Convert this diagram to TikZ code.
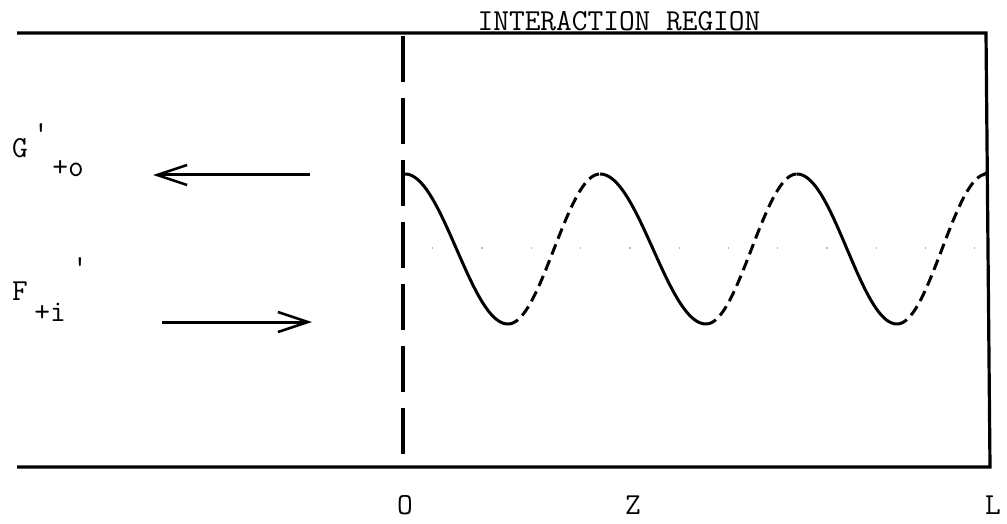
\documentclass[tikz,border=0pt]{standalone}
\usepackage{fontspec}
\usetikzlibrary{arrows.meta}
\tikzset{
  tw/.style={font=\fontsize{30.5}{33}\selectfont\ttfamily, inner sep=0pt, anchor=base},
  frame/.style={line width=3.2pt},
  wall/.style={line width=3.2pt, dash pattern=on 46pt off 16pt},
  solidwave/.style={line width=3pt},
  dashwave/.style={line width=3pt, dash pattern=on 11pt off 6pt},
  flow/.style={line width=3pt, -{Straight Barb[length=30pt,width=20pt,line width=2.6pt]}},
  axisdots/.style={gray!55, line width=1.3pt, dash pattern=on 1.3pt off 48pt},
}
\begin{document}
\begin{tikzpicture}[x=1pt,y=-1pt]
\useasboundingbox (0,0) rectangle (1007,524);
% frame
\coordinate (TL) at (17,33);
\coordinate (TR) at (986,33);
\coordinate (BR) at (990,467);
\coordinate (BL) at (17,467);
\coordinate (W0) at (403,36);
\coordinate (W1) at (403,470);
\draw[frame] (TL) -- (TR) -- (BR) -- (BL);
\draw[wall] (W0) -- (W1);
% title and axis labels
\node[tw] (title) at (619,31) {INTERACTION REGION};
\node[tw] (o) at (405,514) {O};
\node[tw] (z) at (633,514) {Z};
\node[tw] (l) at (993,514) {L};
% left labels
\node[tw] (G) at (20,158) {G};
\node[tw] (Gp) at (41,143) {'};
\node[tw] (Gs) at (68,177) {+o};
\node[tw] (F) at (20,300) {F};
\node[tw] (Fp) at (80,276) {'};
\node[tw] (Fs) at (50,321) {+i};
% arrows
\coordinate (A1s) at (310,175);
\coordinate (A1e) at (153,175);
\coordinate (A2s) at (162,322);
\coordinate (A2e) at (312,322);
\draw[flow] (A1s) -- (A1e);
\draw[flow] (A2s) -- (A2e);
% faint axis
\coordinate (X0) at (432,248);
\coordinate (X1) at (975,248);
\draw[axisdots] (X0) -- (X1);
% wave
\draw[solidwave] (403,174) -- (405,174);
\draw[solidwave] plot[domain=405:508,samples=70] (\x,{249-75*cos((\x-405)/103*180)});
\draw[dashwave] plot[domain=508:600,samples=70] (\x,{249+75*cos((\x-508)/92*180)});
\draw[solidwave] plot[domain=600:706,samples=70] (\x,{249-75*cos((\x-600)/106*180)});
\draw[dashwave] plot[domain=706:797,samples=70] (\x,{249+75*cos((\x-706)/91*180)});
\draw[solidwave] plot[domain=797:897,samples=70] (\x,{249-75*cos((\x-797)/100*180)});
\draw[dashwave] plot[domain=897:984,samples=70] (\x,{249+75*cos((\x-897)/90*180)});
\draw[solidwave] (983,175) -- (988,172);
\end{tikzpicture}
\end{document}
